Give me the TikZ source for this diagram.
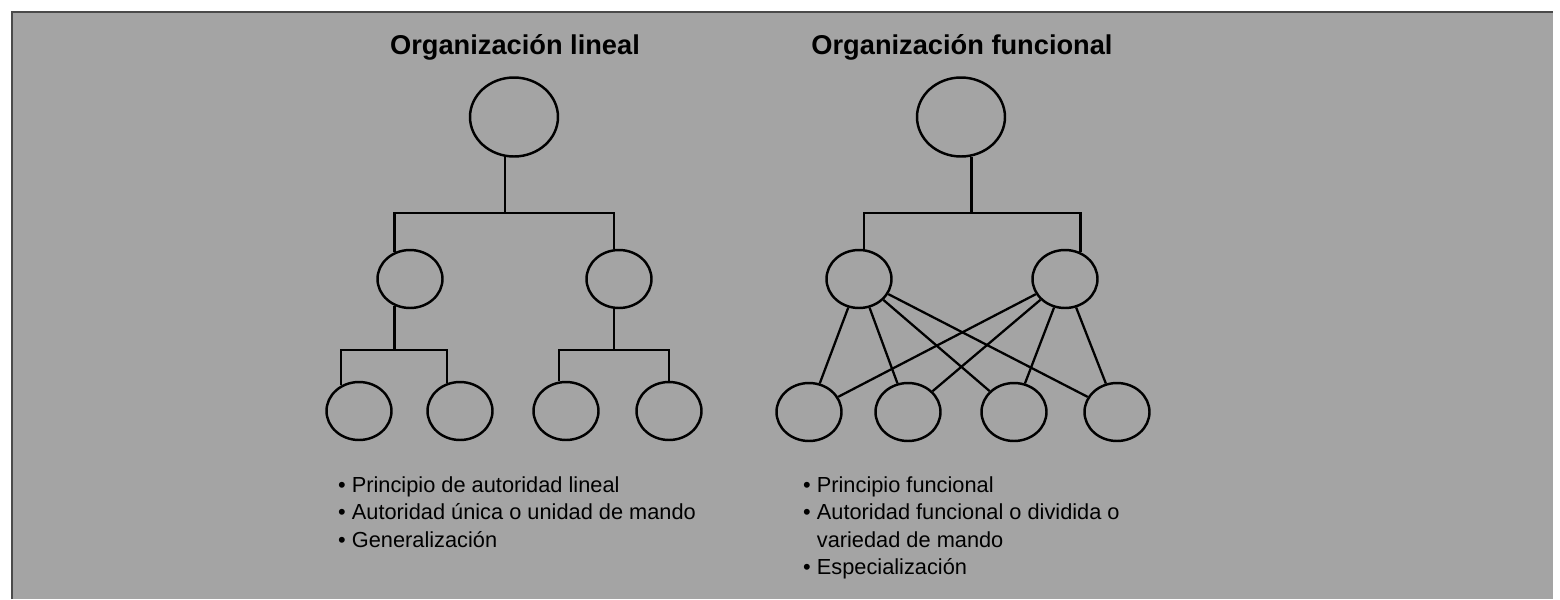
\documentclass[tikz,border=0pt]{standalone}
\usepackage{fontspec}
\setmainfont{Liberation Sans}
\usetikzlibrary{shapes.geometric,positioning}
\definecolor{paper}{HTML}{A4A4A4}
\definecolor{edge}{HTML}{4A4A4A}
\tikzset{unit/.style={ellipse, draw, line width=1.4pt, inner sep=0pt, minimum width=1.3cm, minimum height=1.16cm}, boss/.style={unit, minimum width=1.76cm, minimum height=1.58cm}, link/.style={line width=1.3pt}, ttl/.style={font=\fontsize{15.5}{18}\selectfont\bfseries, anchor=base}, lst/.style={font=\fontsize{12.4}{15}\selectfont, anchor=base west}}

\begin{document}
\begin{tikzpicture}[x=0.02cm,y=-0.02cm]
\useasboundingbox (0,0) rectangle (1560,599);
\fill[paper] (12,12) rectangle (1553,599);
\draw[edge, line width=.6pt] (12,599) |- (1553,12);
% organizacion lineal
\node[ttl] (tl) at (515,54) {Organización lineal};
\node[boss] (l0) at (514,117) {};
\node[unit] (l1) at (410,279) {}; \node[unit] (l2) at (619,279) {};
\node[unit] (l11) at (359,411) {}; \node[unit] (l12) at (460,411) {};
\node[unit] (l21) at (566,411) {}; \node[unit] (l22) at (669,411) {};
\coordinate (lb) at (505,213); \coordinate (lc) at (395,350);
\draw[link] (l0.257) -- (l0.257 |- lb);
\draw[link] (l1.120) |- (lb) -| (l2.100);
\draw[link] (l1.240) -- (l1.240 |- lc); \draw[link] (l11.125) |- (lc) -| (l12.115);
\draw[link] (l2.260) -- (l2.260 |- lc); \draw[link] (l21.103) |- (l2.260 |- lc) -| (l22.north);
\foreach \t [count=\i] in {Principio de autoridad lineal, Autoridad única o unidad de mando, Generalización}
  \node[lst] (la\i) at (332,{492+27.5*(\i-1)}) {\textbullet\ \t};
% organizacion funcional
\node[ttl] (tf) at (962,54) {Organización funcional};
\node[boss] (f0) at (961,117) {};
\node[unit] (f1) at (859,279) {}; \node[unit] (f2) at (1065,279) {};
\node[unit] (fa) at (809,412) {}; \node[unit] (fb) at (908,412) {};
\node[unit] (fc) at (1014,412) {}; \node[unit] (fd) at (1117,412) {};
\coordinate (fb0) at (972,213);
\draw[link] (f0.285) -- (f0.285 |- fb0);
\draw[link] (f1.80) |- (fb0) -| (f2.60);
\foreach \m in {f1,f2} \foreach \b in {fa,fb,fc,fd} \draw[link] (\m) -- (\b);
\foreach \s/\t [count=\i] in {\textbullet/Principio funcional, \textbullet/Autoridad funcional o dividida o, \phantom{\textbullet}/variedad de mando, \textbullet/Especialización}
  \node[lst] (fl\i) at (797,{492+27.5*(\i-1)}) {\s\ \t};
\end{tikzpicture}
\end{document}
